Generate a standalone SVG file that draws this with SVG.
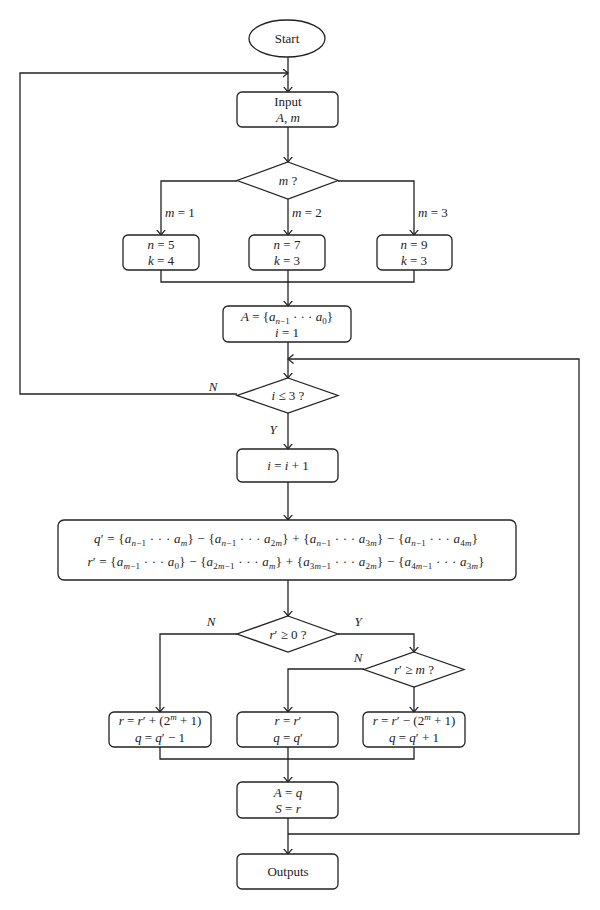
<svg xmlns="http://www.w3.org/2000/svg" width="600" height="910" viewBox="0 0 600 910">
<style>
.ln{fill:none;stroke:#222;stroke-width:1.3}
.box{fill:#fff;stroke:#222;stroke-width:1.3}
text{font-family:"Liberation Serif","DejaVu Serif",serif;font-size:13px;fill:#222;text-anchor:middle}
.st{text-anchor:start}
.i{font-style:italic}
.s{font-size:9px}
</style>
<defs>
<marker id="ah" markerWidth="12" markerHeight="12" refX="5.5" refY="4.5" orient="auto" markerUnits="userSpaceOnUse">
<path d="M0,0 L5.5,4.5 L0,9" fill="none" stroke="#222" stroke-width="1.2"/>
</marker>
</defs>
<rect width="600" height="910" fill="#fff"/>
<g id="connectors">
<path class="ln" d="M288,57 L288,92" marker-end="url(#ah)"/>
<path class="ln" d="M237,394 L20,394 L20,73 L288,73" marker-end="url(#ah)"/>
<path class="ln" d="M288,127 L288,162" marker-end="url(#ah)"/>
<path class="ln" d="M237,181 L161,181 L161,235" marker-end="url(#ah)"/>
<path class="ln" d="M288,199 L288,235" marker-end="url(#ah)"/>
<path class="ln" d="M338,181 L414,181 L414,235" marker-end="url(#ah)"/>
<path class="ln" d="M161,270 L161,282 L414,282 L414,270"/>
<path class="ln" d="M288,270 L288,306" marker-end="url(#ah)"/>
<path class="ln" d="M288,342 L288,378" marker-end="url(#ah)"/>
<path class="ln" d="M288,834 L579,834 L579,359 L288,359" marker-end="url(#ah)"/>
<path class="ln" d="M288,413 L288,449" marker-end="url(#ah)"/>
<path class="ln" d="M288,482 L288,520" marker-end="url(#ah)"/>
<path class="ln" d="M288,580 L288,616" marker-end="url(#ah)"/>
<path class="ln" d="M237,634 L160,634 L160,712" marker-end="url(#ah)"/>
<path class="ln" d="M338,634 L414,634 L414,652" marker-end="url(#ah)"/>
<path class="ln" d="M364,669 L288,669 L288,712" marker-end="url(#ah)"/>
<path class="ln" d="M414,687 L414,712" marker-end="url(#ah)"/>
<path class="ln" d="M160,747 L160,759 L414,759 L414,747"/>
<path class="ln" d="M288,747 L288,782" marker-end="url(#ah)"/>
<path class="ln" d="M288,818 L288,854" marker-end="url(#ah)"/>
<text class="st" x="165" y="217"><tspan class="i">m</tspan> = 1</text>
<text class="st" x="292" y="217"><tspan class="i">m</tspan> = 2</text>
<text class="st" x="418" y="217"><tspan class="i">m</tspan> = 3</text>
<text class="i" x="213" y="391">N</text>
<text class="i" x="273" y="434">Y</text>
<text class="i" x="211" y="626">N</text>
<text class="i" x="358" y="626">Y</text>
<text class="i" x="358" y="662">N</text>
</g>
<g id="start">
<ellipse class="box" cx="287" cy="38.5" rx="38" ry="18.5"/>
<text x="287" y="43">Start</text>
</g>
<g id="input">
<rect class="box" x="237" y="92" width="101" height="35" rx="5"/>
<text x="288" y="106">Input</text>
<text x="288" y="122"><tspan class="i">A</tspan>, <tspan class="i">m</tspan></text>
</g>
<g id="mq">
<polygon class="box" points="288,162 338,180.5 288,199 237,180.5"/>
<text x="288" y="185"><tspan class="i">m</tspan> ?</text>
</g>
<g id="m1">
<rect class="box" x="123" y="235" width="76" height="35" rx="5"/>
<text x="161" y="249"><tspan class="i">n</tspan> = 5</text>
<text x="161" y="265"><tspan class="i">k</tspan> = 4</text>
</g>
<g id="m2">
<rect class="box" x="249" y="235" width="76" height="35" rx="5"/>
<text x="287" y="249"><tspan class="i">n</tspan> = 7</text>
<text x="287" y="265"><tspan class="i">k</tspan> = 3</text>
</g>
<g id="m3">
<rect class="box" x="377" y="235" width="75" height="35" rx="5"/>
<text x="414" y="249"><tspan class="i">n</tspan> = 9</text>
<text x="414" y="265"><tspan class="i">k</tspan> = 3</text>
</g>
<g id="init">
<rect class="box" x="223" y="306" width="128" height="36" rx="5"/>
<text x="287" y="321"><tspan class="i">A</tspan> = {<tspan class="i">a</tspan><tspan class="s i" dy="3">n</tspan><tspan class="s" dy="0">−1</tspan><tspan dy="-3"> · · · </tspan><tspan class="i">a</tspan><tspan class="s" dy="3">0</tspan><tspan dy="-3">}</tspan></text>
<text x="287" y="337"><tspan class="i">i</tspan> = 1</text>
</g>
<g id="icond">
<polygon class="box" points="288,378 338,395.5 288,413 237,395.5"/>
<text x="288" y="400"><tspan class="i">i</tspan> ≤ 3 ?</text>
</g>
<g id="inc">
<rect class="box" x="237" y="449" width="101" height="33" rx="5"/>
<text x="288" y="470"><tspan class="i">i</tspan> = <tspan class="i">i</tspan> + 1</text>
</g>
<g id="calc">
<rect class="box" x="58" y="520" width="458" height="60" rx="6"/>
<text x="286" y="543" textLength="384" lengthAdjust="spacing"><tspan class="i">q</tspan>′ = {<tspan class="i">a</tspan><tspan class="s" dy="3"><tspan class="i">n</tspan>−1</tspan><tspan dy="-3"> · · · </tspan><tspan class="i">a</tspan><tspan class="s i" dy="3">m</tspan><tspan dy="-3">} − {</tspan><tspan class="i">a</tspan><tspan class="s" dy="3"><tspan class="i">n</tspan>−1</tspan><tspan dy="-3"> · · · </tspan><tspan class="i">a</tspan><tspan class="s" dy="3">2<tspan class="i">m</tspan></tspan><tspan dy="-3">} + {</tspan><tspan class="i">a</tspan><tspan class="s" dy="3"><tspan class="i">n</tspan>−1</tspan><tspan dy="-3"> · · · </tspan><tspan class="i">a</tspan><tspan class="s" dy="3">3<tspan class="i">m</tspan></tspan><tspan dy="-3">} − {</tspan><tspan class="i">a</tspan><tspan class="s" dy="3"><tspan class="i">n</tspan>−1</tspan><tspan dy="-3"> · · · </tspan><tspan class="i">a</tspan><tspan class="s" dy="3">4<tspan class="i">m</tspan></tspan><tspan dy="-3">}</tspan></text>
<text x="286" y="566" textLength="397" lengthAdjust="spacing"><tspan class="i">r</tspan>′ = {<tspan class="i">a</tspan><tspan class="s" dy="3"><tspan class="i">m</tspan>−1</tspan><tspan dy="-3"> · · · </tspan><tspan class="i">a</tspan><tspan class="s" dy="3">0</tspan><tspan dy="-3">} − {</tspan><tspan class="i">a</tspan><tspan class="s" dy="3">2<tspan class="i">m</tspan>−1</tspan><tspan dy="-3"> · · · </tspan><tspan class="i">a</tspan><tspan class="s i" dy="3">m</tspan><tspan dy="-3">} + {</tspan><tspan class="i">a</tspan><tspan class="s" dy="3">3<tspan class="i">m</tspan>−1</tspan><tspan dy="-3"> · · · </tspan><tspan class="i">a</tspan><tspan class="s" dy="3">2<tspan class="i">m</tspan></tspan><tspan dy="-3">} − {</tspan><tspan class="i">a</tspan><tspan class="s" dy="3">4<tspan class="i">m</tspan>−1</tspan><tspan dy="-3"> · · · </tspan><tspan class="i">a</tspan><tspan class="s" dy="3">3<tspan class="i">m</tspan></tspan><tspan dy="-3">}</tspan></text>
</g>
<g id="rcond">
<polygon class="box" points="288,616 338,634 288,652 237,634"/>
<text x="288" y="639"><tspan class="i">r</tspan>′ ≥ 0 ?</text>
</g>
<g id="rmcond">
<polygon class="box" points="414,652 464,669.5 414,687 364,669.5"/>
<text x="414" y="674"><tspan class="i">r</tspan>′ ≥ <tspan class="i">m</tspan> ?</text>
</g>
<g id="neg">
<rect class="box" x="109" y="712" width="102" height="35" rx="5"/>
<text x="160" y="725"><tspan class="i">r</tspan> = <tspan class="i">r</tspan>′ + (2<tspan class="s i" dy="-5">m</tspan><tspan dy="5"> + 1)</tspan></text>
<text x="160" y="742"><tspan class="i">q</tspan> = <tspan class="i">q</tspan>′ − 1</text>
</g>
<g id="mid">
<rect class="box" x="237" y="712" width="101" height="35" rx="5"/>
<text x="288" y="725"><tspan class="i">r</tspan> = <tspan class="i">r</tspan>′</text>
<text x="288" y="742"><tspan class="i">q</tspan> = <tspan class="i">q</tspan>′</text>
</g>
<g id="pos">
<rect class="box" x="363" y="712" width="102" height="35" rx="5"/>
<text x="414" y="725"><tspan class="i">r</tspan> = <tspan class="i">r</tspan>′ − (2<tspan class="s i" dy="-5">m</tspan><tspan dy="5"> + 1)</tspan></text>
<text x="414" y="742"><tspan class="i">q</tspan> = <tspan class="i">q</tspan>′ + 1</text>
</g>
<g id="assign">
<rect class="box" x="237" y="782" width="101" height="36" rx="5"/>
<text x="288" y="797"><tspan class="i">A</tspan> = <tspan class="i">q</tspan></text>
<text x="288" y="813"><tspan class="i">S</tspan> = <tspan class="i">r</tspan></text>
</g>
<g id="outputs">
<rect class="box" x="237" y="854" width="101" height="35" rx="5"/>
<text x="288" y="876">Outputs</text>
</g>
</svg>
